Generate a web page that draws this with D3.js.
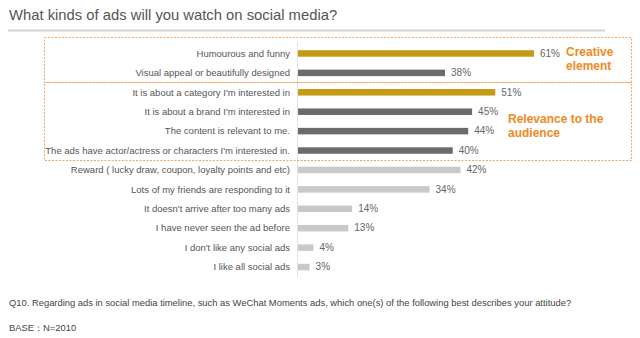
<!DOCTYPE html>
<html><head><meta charset="utf-8">
<script src="https://cdn.jsdelivr.net/npm/d3@7"></script>
<style>body{margin:0;background:#fff;}svg{display:block;font-family:"Liberation Sans",Arial,sans-serif;}</style>
</head><body>
<svg id="c" width="640" height="338"></svg>
<script>
const categories = [
  "Humourous and funny",
  "Visual appeal or beautifully designed",
  "It is about a category I'm interested in",
  "It is about a brand I'm interested in",
  "The content is relevant to me.",
  "The ads have actor/actress or characters I'm interested in.",
  "Reward ( lucky draw, coupon, loyalty points and etc)",
  "Lots of my friends are responding to it",
  "It doesn't arrive after too many ads",
  "I have never seen the ad before",
  "I don't like any social ads",
  "I like all social ads"
];
const values = [61, 38, 51, 45, 44, 40, 42, 34, 14, 13, 4, 3];
const groups = ["gold","dark","gold","dark","dark","dark","light","light","light","light","light","light"];
const title = "What kinds of ads will you watch on social media?";
const note1 = "Q10. Regarding ads in social media timeline, such as WeChat Moments ads, which one(s) of the following best describes your attitude?";
const note2 = "BASE：N=2010";

const svg = d3.select("#c");
const color = d3.scaleOrdinal().domain(["gold","dark","light"]).range(["#c49b14","#6b6b6b","#c9c9c9"]);
const x = d3.scaleLinear().domain([0, 61]).range([298, 534]);
const y = d3.scaleBand().domain(categories).range([43.5, 276.5]).paddingInner(0.66).paddingOuter(0.33);

// title
svg.append("text").attr("x", 9).attr("y", 20).attr("font-size", 14.8).attr("fill", "#555").text(title);
svg.append("line").attr("x1", 8).attr("x2", 605).attr("y1", 30.5).attr("y2", 30.5).attr("stroke", "#d4d4d4").attr("stroke-width", 2);

// axis line
svg.append("line").attr("x1", 297.5).attr("x2", 297.5).attr("y1", 42).attr("y2", 277).attr("stroke", "#e2e2e2");

// bars
svg.selectAll("rect.bar").data(categories).enter().append("rect").attr("class","bar")
  .attr("x", x(0)).attr("y", d => y(d) + y.bandwidth()/2 - 3)
  .attr("width", (d,i) => x(values[i]) - x(0)).attr("height", 6.5)
  .attr("fill", (d,i) => color(groups[i]));

// category labels
svg.selectAll("text.cat").data(categories).enter().append("text").attr("class","cat")
  .attr("x", 290).attr("y", d => y(d) + y.bandwidth()/2 + 3.5)
  .attr("text-anchor", "end").attr("font-size", 9.5).attr("fill", "#555").text(d => d);

// value labels
svg.selectAll("text.val").data(categories).enter().append("text").attr("class","val")
  .attr("x", (d,i) => x(values[i]) + 6).attr("y", d => y(d) + y.bandwidth()/2 + 3.5)
  .attr("font-size", 10).attr("fill", "#666").text((d,i) => values[i] + "%");

// dashed boxes
const dash = "2,1.5";
svg.append("rect").attr("x", 44.5).attr("y", 37.5).attr("width", 587).attr("height", 45)
  .attr("fill", "none").attr("stroke", "#f5a463").attr("stroke-dasharray", dash);
svg.append("rect").attr("x", 44.5).attr("y", 82.5).attr("width", 587).attr("height", 78)
  .attr("fill", "none").attr("stroke", "#f5a463").attr("stroke-dasharray", dash);

// annotations
const ann = svg.append("g").attr("fill", "#f08a24").attr("font-size", 12).attr("font-weight", "bold");
ann.append("text").attr("x", 566).attr("y", 56).text("Creative");
ann.append("text").attr("x", 566).attr("y", 70).text("element");
ann.append("text").attr("x", 508).attr("y", 123).text("Relevance to the");
ann.append("text").attr("x", 508).attr("y", 137).text("audience");

// footer
svg.append("text").attr("x", 9).attr("y", 306).attr("font-size", 9.4).attr("fill", "#444").text(note1);
svg.append("text").attr("x", 9).attr("y", 331).attr("font-size", 9.4).attr("fill", "#444").text(note2);
</script>
</body></html>
